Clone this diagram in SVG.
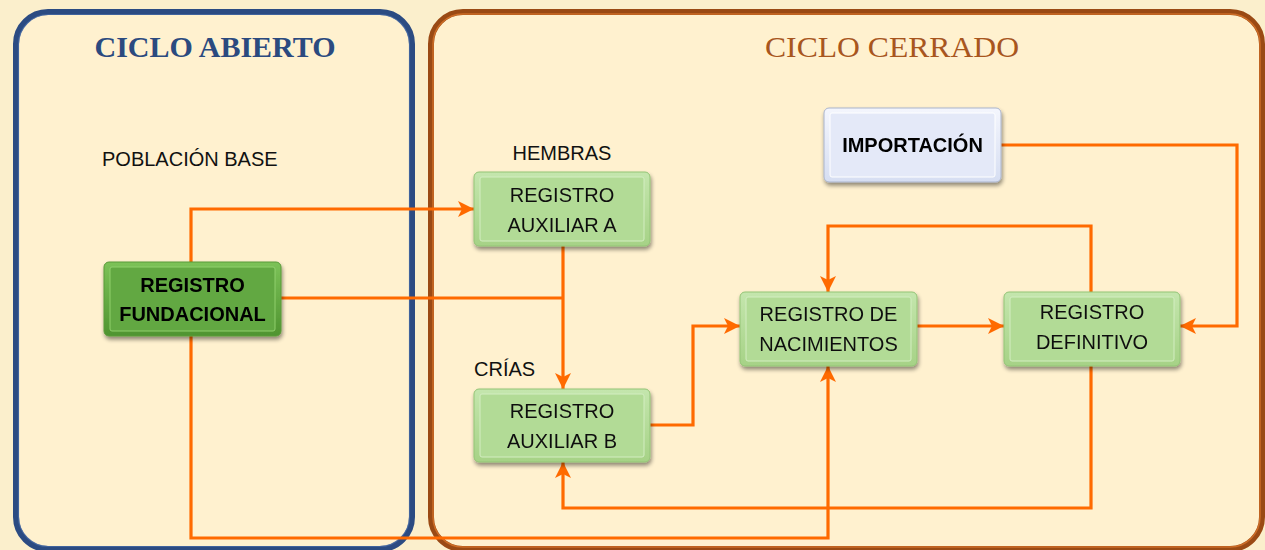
<svg xmlns="http://www.w3.org/2000/svg" width="1265" height="550" viewBox="0 0 1265 550">
<style>
.lbl{font-family:"Liberation Sans",Arial,sans-serif;font-size:20px;fill:#111}
.ntx{font-family:"Liberation Sans",Arial,sans-serif;font-size:20px;fill:#111;text-anchor:middle}
.ntb{font-family:"Liberation Sans",Arial,sans-serif;font-size:20px;font-weight:bold;fill:#000;text-anchor:middle}
.conn{fill:none;stroke:#ff6a00;stroke-width:3.2;stroke-linejoin:miter}
.arr{marker-end:url(#ah)}
.title{font-family:"Liberation Serif","Times New Roman",serif;text-anchor:middle}
</style>
<defs>
<marker id="ah" markerUnits="userSpaceOnUse" markerWidth="18" markerHeight="18" refX="16" refY="8" orient="auto" viewBox="0 0 18 16">
<path d="M0,0 L16,8 L0,16 L4,8 z" fill="#ff6a00"/>
</marker>
<linearGradient id="gLight" x1="0" y1="0" x2="0" y2="1">
<stop offset="0" stop-color="#c4e6ad"/><stop offset="1" stop-color="#a6d286"/>
</linearGradient>
<linearGradient id="gDark" x1="0" y1="0" x2="0" y2="1">
<stop offset="0" stop-color="#7cc258"/><stop offset="1" stop-color="#4f9430"/>
</linearGradient>
<linearGradient id="gBlue" x1="0" y1="0" x2="0" y2="1">
<stop offset="0" stop-color="#f4f6fd"/><stop offset="1" stop-color="#d6def2"/>
</linearGradient>
<filter id="sh" x="-10%" y="-10%" width="125%" height="135%">
<feGaussianBlur in="SourceAlpha" stdDeviation="2"/>
<feOffset dx="1" dy="3" result="b"/>
<feComponentTransfer><feFuncA type="linear" slope="0.45"/></feComponentTransfer>
<feMerge><feMergeNode/><feMergeNode in="SourceGraphic"/></feMerge>
</filter>
</defs>
<rect x="0" y="0" width="1265" height="550" fill="#fbefcc"/>
<g id="panel-abierto">
<rect x="16" y="12" width="396" height="537" rx="32" fill="#fff1cf" stroke="#2b4b82" stroke-width="6"/>
<rect x="18.5" y="14.5" width="391" height="532" rx="30" fill="none" stroke="#4a6ea8" stroke-width="1.2" opacity="0.7"/>
<text class="title" x="215" y="57" font-size="30" font-weight="bold" fill="#2b4a7f">CICLO ABIERTO</text>
</g>
<g id="panel-cerrado">
<rect x="431" y="12" width="831" height="537" rx="32" fill="#fff1cf" stroke="#9a4a14" stroke-width="6"/>
<rect x="433" y="14" width="827" height="533" rx="30" fill="none" stroke="#d8742a" stroke-width="1.5" opacity="0.8"/>
<text class="title" x="892" y="57" font-size="30" fill="#a8561e" textLength="254" lengthAdjust="spacingAndGlyphs">CICLO CERRADO</text>
</g>
<g id="connectors">
<polyline class="conn arr" points="191,262 191,209 474,209"/>
<polyline class="conn" points="281,298 563,298"/>
<polyline class="conn arr" points="563,246 563,389"/>
<polyline class="conn arr" points="650,425 693,425 693,326 740,326"/>
<polyline class="conn arr" points="917,326 1004,326"/>
<polyline class="conn arr" points="1091,292 1091,226 828,226 828,292"/>
<polyline class="conn arr" points="1001,145 1237,145 1237,326 1180,326"/>
<polyline class="conn arr" points="1091,366 1091,508 563,508 563,462"/>
<polyline class="conn arr" points="191,336 191,538 828,538 828,366"/>
</g>
<g id="lbl-poblacion"><text class="lbl" x="102" y="166">POBLACIÓN BASE</text></g>
<g id="lbl-hembras"><text class="lbl" x="562" y="160" text-anchor="middle">HEMBRAS</text></g>
<g id="lbl-crias"><text class="lbl" x="474" y="376">CRÍAS</text></g>
<g id="n-fundacional" filter="url(#sh)">
<rect x="104" y="262" width="177" height="74" rx="5" fill="url(#gDark)" stroke="#5a9a3a" stroke-width="1"/>
<rect x="110" y="267" width="165" height="64" rx="2" fill="#62a842" stroke="#8fcf6c" stroke-width="1"/>
<text class="ntb" x="192.5" y="292">REGISTRO</text>
<text class="ntb" x="192.5" y="321">FUNDACIONAL</text>
</g>
<g id="n-auxA" filter="url(#sh)">
<rect x="474" y="172" width="176" height="74" rx="5" fill="url(#gLight)" stroke="#93c476" stroke-width="1"/>
<rect x="480" y="177" width="164" height="64" rx="2" fill="#b2db96" stroke="#d3edc1" stroke-width="1"/>
<text class="ntx" x="562" y="202">REGISTRO</text>
<text class="ntx" x="562" y="232">AUXILIAR A</text>
</g>
<g id="n-auxB" filter="url(#sh)">
<rect x="474" y="389" width="176" height="73" rx="5" fill="url(#gLight)" stroke="#93c476" stroke-width="1"/>
<rect x="480" y="394" width="164" height="63" rx="2" fill="#b2db96" stroke="#d3edc1" stroke-width="1"/>
<text class="ntx" x="562" y="418">REGISTRO</text>
<text class="ntx" x="562" y="448">AUXILIAR B</text>
</g>
<g id="n-importacion" filter="url(#sh)">
<rect x="824" y="108" width="177" height="74" rx="5" fill="url(#gBlue)" stroke="#aab4cc" stroke-width="1"/>
<rect x="830" y="113" width="165" height="64" rx="2" fill="#e4e9f8" stroke="#ffffff" stroke-width="1"/>
<text class="ntb" x="912.5" y="152">IMPORTACIÓN</text>
</g>
<g id="n-nacimientos" filter="url(#sh)">
<rect x="740" y="292" width="177" height="74" rx="5" fill="url(#gLight)" stroke="#93c476" stroke-width="1"/>
<rect x="746" y="297" width="165" height="64" rx="2" fill="#b2db96" stroke="#d3edc1" stroke-width="1"/>
<text class="ntx" x="828.5" y="321">REGISTRO DE</text>
<text class="ntx" x="828.5" y="351">NACIMIENTOS</text>
</g>
<g id="n-definitivo" filter="url(#sh)">
<rect x="1004" y="292" width="176" height="74" rx="5" fill="url(#gLight)" stroke="#93c476" stroke-width="1"/>
<rect x="1010" y="297" width="164" height="64" rx="2" fill="#b2db96" stroke="#d3edc1" stroke-width="1"/>
<text class="ntx" x="1092" y="319">REGISTRO</text>
<text class="ntx" x="1092" y="349">DEFINITIVO</text>
</g>
</svg>
